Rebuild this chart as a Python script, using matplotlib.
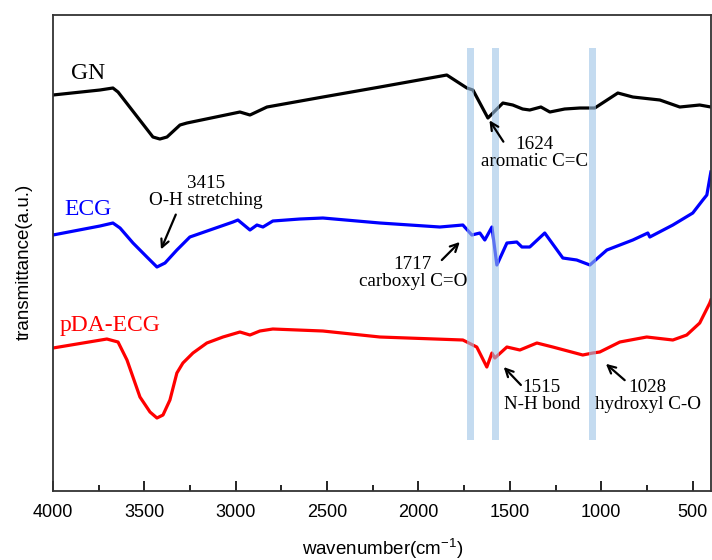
import matplotlib.pyplot as plt
from matplotlib.ticker import MultipleLocator

plt.rcParams["mathtext.fontset"] = "custom"
plt.rcParams["mathtext.rm"] = "Liberation Sans"
plt.rcParams["mathtext.it"] = "Liberation Sans:italic"

# wavenumber (cm-1) and transmittance (a.u., curves already offset)
gn_wn = [4000, 3743, 3672, 3644, 3453, 3415, 3376, 3305, 3267, 2977, 2922, 2829, 2523,
         2211, 1845, 1735, 1702, 1620, 1538, 1484, 1430, 1391, 1330, 1281, 1200, 1117,
         1035, 909, 827, 679, 570, 461, 400]
gn_t = [416, 421, 423, 419, 374, 372, 374, 386, 388, 399, 396, 404, 414,
        424, 436, 423, 421, 393, 408, 406, 402, 401, 404, 399, 402, 403,
        403, 418, 414, 411, 404, 406, 404]

ecg_wn = [4000, 3743, 3672, 3633, 3562, 3486, 3431, 3387, 3322, 3251, 3141, 3015, 2988,
          2922, 2884, 2851, 2797, 2649, 2523, 2211, 1883, 1757, 1708, 1664, 1637, 1598,
          1571, 1516, 1462, 1434, 1391, 1309, 1210, 1134, 1062, 969, 827, 745, 734, 608,
          499, 444, 422, 400]
ecg_t = [276, 285, 288, 283, 268, 254, 244, 248, 261, 274, 281, 289, 291,
         281, 286, 284, 290, 292, 293, 288, 284, 286, 276, 278, 271, 284,
         246, 268, 269, 264, 264, 278, 253, 251, 246, 261, 271, 278, 274, 286,
         298, 311, 316, 339]

pda_wn = [4000, 3705, 3644, 3595, 3524, 3469, 3431, 3398, 3360, 3322, 3289, 3234, 3158,
          3070, 2977, 2922, 2868, 2797, 2523, 2211, 1757, 1681, 1626, 1598, 1582, 1516,
          1445, 1352, 1265, 1101, 1046, 1008, 898, 751, 608, 532, 461, 406, 400]
pda_t = [163, 172, 169, 151, 114, 99, 93, 96, 111, 138, 148, 158, 168,
         174, 179, 176, 180, 182, 180, 174, 171, 164, 144, 158, 153, 164,
         161, 168, 164, 156, 158, 159, 169, 174, 171, 176, 188, 208, 211]

band_centers = [1715, 1579, 1050]

fig = plt.figure(figsize=(7.12, 5.6), dpi=100)
ax = fig.add_axes([0.0744, 0.1232, 0.924, 0.85])

ax.plot(gn_wn, gn_t, color="black", lw=2.3)
ax.plot(ecg_wn, ecg_t, color="#0000ff", lw=2.3)
ax.plot(pda_wn, pda_t, color="#ff0000", lw=2.3)

# highlight bands (drawn over the curves, semi transparent)
for c in band_centers:
    ax.axvspan(c + 19, c - 19, ymin=0.107, ymax=0.931, color="#9dc3e6", alpha=0.6, lw=0, zorder=3)

serif = "Liberation Serif"
ax.text(3809, 438, "GN", color="black", fontsize=17, family=serif, ha="center", va="center")
ax.text(3809, 302, "ECG", color="#0000ff", fontsize=17, family=serif, ha="center", va="center")
ax.text(3688, 186, "pDA-ECG", color="#ff0000", fontsize=17, family=serif, ha="center", va="center")

notes = [
    ("3415\nO-H stretching", (3415, 259), (3322, 299), (3163, 319)),
    ("1624\naromatic C=C", (1620, 393), (1527, 367), (1363, 358)),
    ("1717\ncarboxyl C=O", (1763, 271), (1883, 249), (2031, 238)),
    ("1515\nN-H bond", (1544, 146), (1429, 124), (1325, 115)),
    ("1028\nhydroxyl C-O", (986, 149), (860, 129), (745, 115)),
]
for txt, tip, tail, pos in notes:
    ax.annotate("", xy=tip, xytext=tail,
                arrowprops=dict(arrowstyle="->", color="black", lw=1.6, mutation_scale=14))
    ax.text(pos[0], pos[1], txt, fontsize=13.7, family=serif, ha="center", va="center",
            linespacing=0.95)

ax.set_xlim(4000, 400)
ax.set_ylim(20, 496)
ax.xaxis.set_major_locator(MultipleLocator(500))
ax.xaxis.set_minor_locator(MultipleLocator(250))
ax.tick_params(axis="x", which="major", direction="in", length=7, width=1.2, top=False,
               labelsize=13, pad=9)
ax.tick_params(axis="x", which="minor", direction="in", length=4, width=1.2, top=False)
ax.set_yticks([])
for lab in ax.get_xticklabels():
    lab.set_family("Liberation Sans")
for s in ax.spines.values():
    s.set_linewidth(1.3)
    s.set_color("#333333")

fig.text(0.034, 0.532, "transmittance(a.u.)", rotation=90, fontsize=13.5,
         family="Liberation Sans", ha="center", va="center")
fig.text(0.5371, 0.02, "wavenumber(cm$^{\\mathrm{-1}}$)", fontsize=13.5,
         family="Liberation Sans", ha="center", va="center")

fig.savefig("out.png", dpi=100)
